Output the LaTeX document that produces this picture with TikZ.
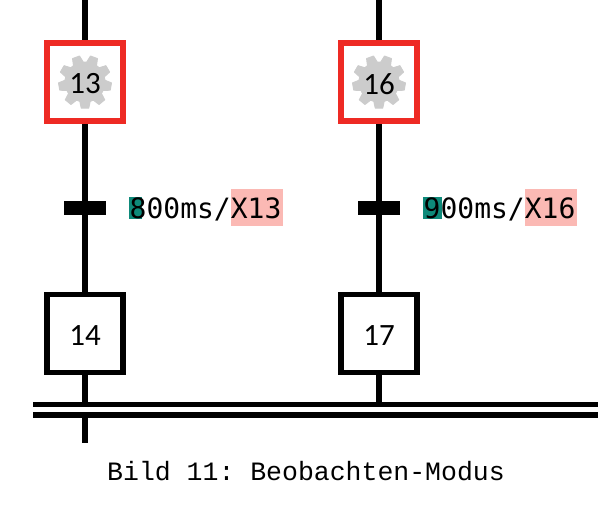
\documentclass[tikz,border=0pt]{standalone}
\usepackage{fontspec}
\usepackage{xcolor}
\usetikzlibrary{positioning}
\setmainfont{Carlito}
\newfontfamily\timefont{DejaVu Sans Mono}
\newfontfamily\capfont{Liberation Mono}
\definecolor{alarm}{HTML}{EE2A24}
\definecolor{geargray}{HTML}{CCCCCC}
\definecolor{teal}{HTML}{0E8A7A}
\definecolor{softred}{HTML}{FBB9B4}
\tikzset{
  sfcbox/.style={draw=black,line width=5.8pt,minimum width=76.5pt,minimum height=78pt,inner sep=0pt},
  sfcact/.style={sfcbox,draw=alarm},
  sfcnum/.style={inner sep=0pt,yshift=-2pt,font=\fontsize{31}{31}\selectfont},
  sfcbar/.style={fill=black,minimum width=42pt,minimum height=14pt,inner sep=0pt},
  sfcline/.style={line width=5.2pt,draw=black},
  sfcgear/.style={fill=geargray,line join=round,draw=geargray,line width=1pt},
  sfctime/.style={anchor=base west,inner sep=0pt,font=\timefont\fontsize{28}{28}\selectfont},
  sfccap/.style={inner sep=0pt,font=\capfont\fontsize{26.5}{26.5}\selectfont\frenchspacing}
}
\begin{document}
\begin{tikzpicture}[x=1pt,y=-1pt]
  \useasboundingbox (0,0) rectangle (598,521);
  % bus
  \coordinate (busal) at (33,404.7);
  \coordinate (busar) at (598,404.7);
  \coordinate (busbl) at (33,415);
  \coordinate (busbr) at (598,415);
  \draw[sfcline] (busal) -- (busar);
  \draw[sfcline] (busbl) -- (busbr);
  \foreach \x/\sa/\sb/\txt/\w/\tl in {85/13/14/800ms/13/X13, 379/16/17/900ms/19/X16}{
    \begin{scope}[shift={(\x,0)}]
      \fill[teal] (44,197) rectangle +(\w,22);
      \fill[softred] (146,189) rectangle +(52,37);
      \node[sfctime] (time\sa) at (44.5,218.5) {\txt/\tl};
      \coordinate (top\sa) at (0,0);
      \node[sfcact] (step\sa) at (0,82) {};
      \node[sfcbar] (tr\sa) at (0,208) {};
      \node[sfcbox] (step\sb) at (0,333.5) {};
      \draw[sfcline] (top\sa) -- (step\sa);
      \draw[sfcline] (step\sa) -- (tr\sa);
      \draw[sfcline] (tr\sa) -- (step\sb);
      \draw[sfcline] (step\sb) -- (step\sb |- busal);
      \begin{scope}[shift={(0,82)}]
        \path[sfcgear] (76:20) \foreach \g in {90,130,...,410}{
          -- (\g-15:20) -- (\g-8:26.5) -- (\g+8:26.5) -- (\g+15:20)} -- cycle;
      \end{scope}
      \node[sfcnum] (num\sa) at (step\sa) {\sa};
      \node[sfcnum] (num\sb) at (step\sb) {\sb};
    \end{scope}
  }
  \coordinate (endout) at (85,442.7);
  \draw[sfcline] (endout |- busbl) -- (endout);
  \node[sfccap] (cap) at (306,471) {Bild 11: Beobachten-Modus};
\end{tikzpicture}
\end{document}
